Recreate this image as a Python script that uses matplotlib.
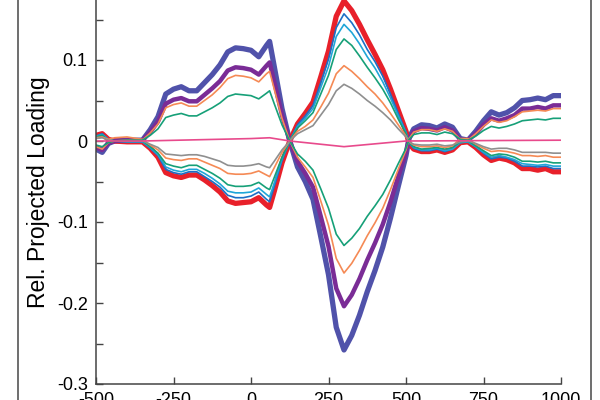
import matplotlib
matplotlib.use("Agg")
import matplotlib.pyplot as plt
from matplotlib.lines import Line2D

plt.rcParams['font.family'] = ['Liberation Sans', 'DejaVu Sans']
plt.rcParams['axes.unicode_minus'] = False

# posição ao longo do eixo x
x = [-500, -480, -460, -440, -400, -350, -325, -300, -275, -250, -225, -200, -175, -150, -125,
     -100, -75, -50, -25, 0, 25, 50, 60, 75, 100, 125, 150, 175, 200, 225, 250, 275, 300, 325,
     350, 375, 400, 425, 450, 475, 500, 510, 525, 550, 575, 600, 625, 650, 675, 700, 725, 750,
     775, 800, 825, 850, 875, 900, 925, 950, 975, 1000]

azul_escuro = [-0.010, -0.014, -0.003, 0.000, 0.001, 0.001, 0.014, 0.030, 0.058, 0.064, 0.067, 0.062,
               0.062, 0.072, 0.082, 0.094, 0.110, 0.115, 0.114, 0.112, 0.104, 0.118, 0.123, 0.092,
               0.040, 0.000, -0.032, -0.050, -0.072, -0.118, -0.165, -0.230, -0.258, -0.240, -0.215,
               -0.186, -0.160, -0.131, -0.095, -0.056, -0.018, 0.004, 0.015, 0.020, 0.019, 0.016,
               0.021, 0.017, 0.003, 0.001, 0.012, 0.025, 0.036, 0.032, 0.035, 0.041, 0.050, 0.051,
               0.053, 0.051, 0.056, 0.056]

roxo = [-0.008, -0.011, -0.002, 0.000, 0.001, 0.001, 0.011, 0.024, 0.046, 0.051, 0.053, 0.049,
        0.049, 0.057, 0.065, 0.074, 0.087, 0.091, 0.090, 0.088, 0.082, 0.093, 0.097, 0.073,
        0.032, 0.000, -0.025, -0.040, -0.057, -0.093, -0.130, -0.182, -0.204, -0.190, -0.170,
        -0.147, -0.126, -0.103, -0.075, -0.044, -0.014, 0.003, 0.012, 0.016, 0.015, 0.013,
        0.017, 0.013, 0.002, 0.001, 0.009, 0.020, 0.028, 0.025, 0.028, 0.032, 0.040, 0.040,
        0.042, 0.040, 0.044, 0.044]

laranja_pos = [-0.007, -0.010, -0.002, 0.000, 0.001, 0.001, 0.010, 0.021, 0.041, 0.045, 0.047, 0.043,
               0.043, 0.050, 0.057, 0.066, 0.077, 0.081, 0.080, 0.078, 0.073, 0.083, 0.086, 0.064,
               0.028, 0.000, -0.020, -0.032, -0.045, -0.074, -0.104, -0.145, -0.163, -0.151, -0.135,
               -0.117, -0.101, -0.083, -0.060, -0.035, -0.011, 0.003, 0.011, 0.014, 0.014, 0.012,
               0.015, 0.012, 0.002, 0.001, 0.009, 0.018, 0.026, 0.023, 0.025, 0.030, 0.036, 0.037,
               0.038, 0.037, 0.040, 0.040]

verde_pos = [-0.005, -0.007, -0.002, 0.000, 0.001, 0.001, 0.007, 0.015, 0.029, 0.032, 0.034, 0.031,
             0.031, 0.036, 0.041, 0.047, 0.055, 0.058, 0.057, 0.056, 0.052, 0.059, 0.062, 0.046,
             0.020, 0.000, -0.016, -0.025, -0.036, -0.059, -0.083, -0.115, -0.129, -0.120, -0.108,
             -0.093, -0.080, -0.066, -0.048, -0.028, -0.009, 0.002, 0.008, 0.010, 0.010, 0.008,
             0.011, 0.009, 0.002, 0.001, 0.006, 0.013, 0.018, 0.016, 0.018, 0.021, 0.025, 0.026,
             0.027, 0.026, 0.028, 0.028]

vermelho = [0.007, 0.009, 0.002, 0.000, -0.001, -0.001, -0.009, -0.020, -0.039, -0.043, -0.045, -0.042,
            -0.042, -0.048, -0.055, -0.063, -0.074, -0.077, -0.076, -0.075, -0.070, -0.079, -0.082,
            -0.062, -0.027, 0.000, 0.021, 0.034, 0.048, 0.079, 0.111, 0.154, 0.173, 0.161, 0.144,
            0.125, 0.107, 0.088, 0.064, 0.038, 0.012, -0.003, -0.010, -0.013, -0.013, -0.011,
            -0.014, -0.011, -0.002, -0.001, -0.008, -0.017, -0.024, -0.021, -0.023, -0.027, -0.034,
            -0.034, -0.036, -0.034, -0.038, -0.038]

azul = [0.006, 0.009, 0.002, 0.000, -0.001, -0.001, -0.009, -0.018, -0.035, -0.039, -0.041, -0.038,
        -0.038, -0.044, -0.050, -0.057, -0.067, -0.070, -0.070, -0.068, -0.063, -0.072, -0.075,
        -0.056, -0.024, 0.000, 0.020, 0.031, 0.044, 0.072, 0.101, 0.140, 0.157, 0.146, 0.131,
        0.113, 0.098, 0.080, 0.058, 0.034, 0.011, -0.002, -0.009, -0.012, -0.012, -0.010,
        -0.013, -0.010, -0.002, -0.001, -0.007, -0.015, -0.022, -0.020, -0.021, -0.025, -0.031,
        -0.031, -0.032, -0.031, -0.034, -0.034]

ciano = [0.006, 0.008, 0.002, 0.000, -0.001, -0.001, -0.008, -0.017, -0.032, -0.036, -0.038, -0.035,
         -0.035, -0.040, -0.046, -0.053, -0.062, -0.064, -0.064, -0.063, -0.058, -0.066, -0.069,
         -0.052, -0.022, 0.000, 0.018, 0.028, 0.040, 0.066, 0.092, 0.129, 0.144, 0.134, 0.120,
         0.104, 0.090, 0.073, 0.053, 0.031, 0.010, -0.002, -0.008, -0.011, -0.011, -0.009,
         -0.012, -0.010, -0.002, -0.001, -0.007, -0.014, -0.020, -0.018, -0.020, -0.023, -0.028,
         -0.029, -0.030, -0.029, -0.031, -0.031]

verde_neg = [0.005, 0.007, 0.001, 0.000, 0.000, 0.000, -0.007, -0.015, -0.028, -0.031, -0.033, -0.030,
             -0.030, -0.035, -0.040, -0.046, -0.054, -0.056, -0.056, -0.055, -0.051, -0.058, -0.060,
             -0.045, -0.020, 0.000, 0.016, 0.025, 0.035, 0.058, 0.081, 0.113, 0.126, 0.118, 0.105,
             0.091, 0.078, 0.064, 0.047, 0.027, 0.009, -0.002, -0.007, -0.010, -0.009, -0.008,
             -0.010, -0.008, -0.001, 0.000, -0.006, -0.012, -0.018, -0.016, -0.017, -0.020, -0.025,
             -0.025, -0.026, -0.025, -0.027, -0.027]

laranja_neg = [0.004, 0.005, 0.002, 0.004, 0.005, 0.002, -0.005, -0.011, -0.021, -0.023, -0.024, -0.022,
               -0.022, -0.026, -0.030, -0.034, -0.040, -0.041, -0.041, -0.040, -0.037, -0.042, -0.044,
               -0.033, -0.014, 0.000, 0.012, 0.018, 0.026, 0.042, 0.059, 0.083, 0.093, 0.086, 0.077,
               0.067, 0.058, 0.047, 0.034, 0.020, 0.006, -0.001, -0.005, -0.007, -0.007, -0.006,
               -0.008, -0.006, 0.003, 0.003, -0.004, -0.009, -0.013, -0.012, -0.013, -0.015, -0.018,
               -0.018, -0.019, -0.018, -0.020, -0.020]

cinza = [0.003, 0.004, 0.001, 0.000, 0.000, 0.000, -0.004, -0.008, -0.016, -0.017, -0.018, -0.017,
         -0.017, -0.019, -0.022, -0.025, -0.030, -0.031, -0.031, -0.030, -0.028, -0.032, -0.033,
         -0.025, -0.011, 0.000, 0.009, 0.014, 0.019, 0.032, 0.045, 0.062, 0.070, 0.065, 0.058,
         0.050, 0.043, 0.035, 0.026, 0.015, 0.005, -0.001, -0.004, -0.005, -0.005, -0.004,
         -0.006, -0.005, -0.001, 0.000, -0.003, -0.007, -0.010, -0.009, -0.009, -0.011, -0.014,
         -0.014, -0.014, -0.014, -0.015, -0.015]

x_rosa = [-500, -350, 0, 60, 125, 300, 500, 1000]
rosa = [0.000, 0.000, 0.003, 0.004, 0.000, -0.007, 0.000, 0.001]

fig = plt.figure(figsize=(6, 4), dpi=100)
ax = fig.add_axes([96 / 600, 16 / 400, 465 / 600, 405 / 400])

# linhas grossas primeiro, finas por cima
grossa = dict(solid_capstyle='round', solid_joinstyle='round')
ax.plot(x, azul_escuro, color='#5052aa', lw=3.8, **grossa)
ax.plot(x, vermelho, color='#e8202a', lw=3.8, **grossa)
ax.plot(x, roxo, color='#7a2c96', lw=3.2, **grossa)
ax.plot(x, azul, color='#1c6fc6', lw=1.2)
ax.plot(x, ciano, color='#20a6d8', lw=1.2)
ax.plot(x, verde_neg, color='#16a078', lw=1.2)
ax.plot(x, laranja_neg, color='#f58a55', lw=1.2)
ax.plot(x, cinza, color='#8f8f8f', lw=1.2)
ax.plot(x, laranja_pos, color='#f58a55', lw=1.2)
ax.plot(x, verde_pos, color='#16a078', lw=1.2)
ax.plot(x_rosa, rosa, color='#e84a8c', lw=1.2)

ax.set_xlim(-500, 1000)
ax.set_ylim(-0.3, 0.2)
ax.set_xticks([-500, -250, 0, 250, 500, 750, 1000])
ax.set_yticks([-0.3, -0.2, -0.1, 0, 0.1])
ax.set_yticklabels(['-0.3', '-0.2', '-0.1', '0', '0.1'])
ax.set_yticks([-0.25, -0.15, -0.05, 0.05, 0.15], minor=True)
ax.tick_params(direction='in', length=5, width=1, color='#444444', labelsize=13, pad=6)
ax.tick_params(which='minor', direction='in', length=5, width=1, color='#444444')

for lado in ['top', 'right']:
    ax.spines[lado].set_visible(False)
for lado in ['left', 'bottom']:
    ax.spines[lado].set_color('#444444')
    ax.spines[lado].set_linewidth(1.1)

fig.text(0.065, 0.52, 'Rel. Projected Loading', rotation=90, ha='center', va='center', fontsize=16.5)

# moldura externa
fig.add_artist(Line2D([18 / 600, 18 / 600], [0, 1], color='#555555', lw=1.2))
fig.add_artist(Line2D([591 / 600, 591 / 600], [0, 1], color='#555555', lw=1.2))

fig.savefig('out.png', dpi=100)
